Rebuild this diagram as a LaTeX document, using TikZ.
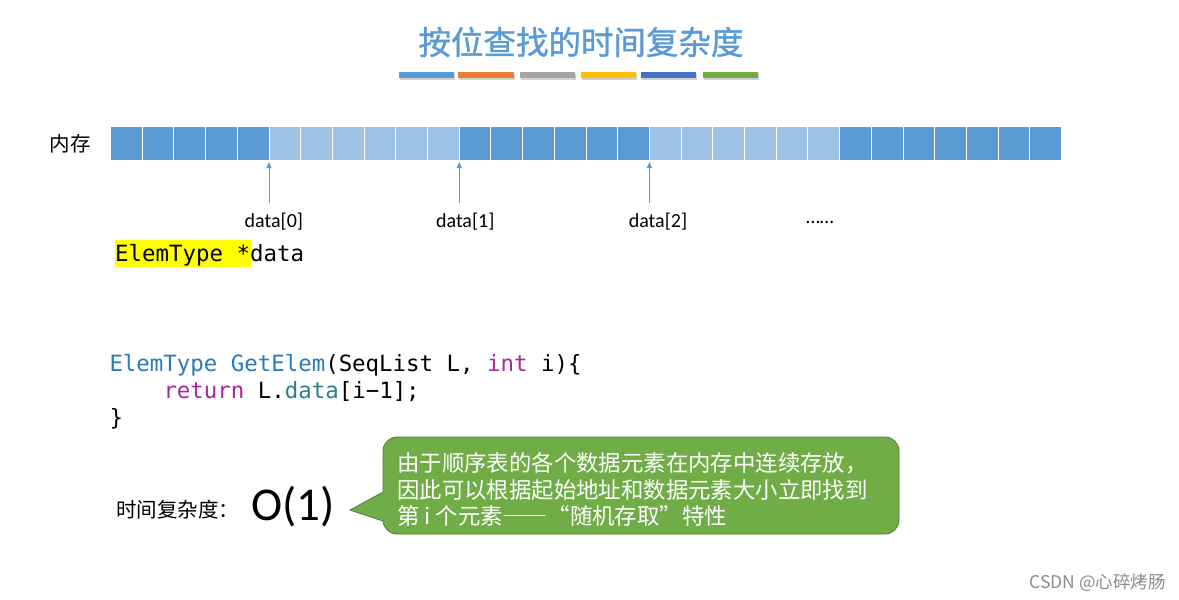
\documentclass[tikz,border=0pt]{standalone}
\usepackage{fontspec}
\setmainfont{Carlito}
\newfontfamily\cjk{Noto Sans CJK SC}
\newfontfamily\cjkfw[RawFeature=+fwid]{Noto Sans CJK SC}
\newfontfamily\cjkt[FakeBold=1.2]{Noto Sans CJK SC}
\newfontfamily\mono{DejaVu Sans Mono}
\usetikzlibrary{arrows.meta}
\definecolor{tblue}{HTML}{5B9BD5}
\definecolor{lblue}{HTML}{9DC3E6}
\definecolor{borange}{HTML}{ED7D31}
\definecolor{bgray}{HTML}{A5A5A5}
\definecolor{bgold}{HTML}{FFC000}
\definecolor{bdblue}{HTML}{4472C4}
\definecolor{bgreen}{HTML}{70AD47}
\definecolor{cgreen}{HTML}{70AD47}
\definecolor{cborder}{HTML}{507E32}
\definecolor{kwblue}{HTML}{2B7BB9}
\definecolor{kwpurple}{HTML}{A8289C}
\definecolor{kwteal}{HTML}{2E7D8C}
\definecolor{hyellow}{HTML}{FFFF00}
\tikzset{
  cell/.style={draw=white, line width=1pt, minimum width=31.7pt, minimum height=34pt, inner sep=0pt, outer sep=0pt},
  darkcell/.style={cell, fill=tblue},
  lightcell/.style={cell, fill=lblue},
  ptr/.style={draw=tblue, line width=0.8pt, -{Triangle[length=6pt,width=5pt]}, shorten >=2pt},
  lbl/.style={inner sep=0pt, font=\fontsize{20}{24}\selectfont, anchor=base},
  code/.style={inner sep=0pt, anchor=base west, font=\mono\fontsize{22.4}{26}\selectfont},
  cn/.style={inner sep=0pt, font=\cjk\fontsize{20.5}{24}\selectfont},
  calltxt/.style={inner sep=0pt, anchor=base west, text=white, font=\cjk\fontsize{22.4}{26}\selectfont},
}
\begin{document}
\begin{tikzpicture}[x=1pt,y=-1pt]
\useasboundingbox[fill=white] (0,0) rectangle (1179,600);

% title
\node[inner sep=0pt, text=tblue, font=\cjkt\fontsize{32.5}{36}\selectfont] (title) at (581,42) {按位查找的时间复杂度};

% colour bars
\foreach \xa/\xb/\c in {399/454/tblue, 458/514/borange, 520/575/bgray, 581/636/bgold, 641/696/bdblue, 703/758/bgreen}{
  \fill[black!18] (\xa+1,73.5) rectangle (\xb+1,79.5);
  \fill[\c] (\xa,71.8) rectangle (\xb,77.8);
}

% memory label
\node[cn] (mem) at (70,144) {内存};

% memory strip
\foreach \i in {0,...,29}{
  \pgfmathtruncatemacro{\isdark}{(\i<5) || (\i>10 && \i<17) || (\i>22) ? 1 : 0}
  \ifnum\isdark=1
    \node[darkcell] (c\i) at (110.5+31.7*\i+15.85,143) {};
  \else
    \node[lightcell] (c\i) at (110.5+31.7*\i+15.85,143) {};
  \fi
}

% pointers
\coordinate (p0) at (c5.south west |- 0,203);
\coordinate (p1) at (c11.south west |- 0,203);
\coordinate (p2) at (c17.south west |- 0,203);
\draw[ptr] (p0) -- (c5.south west);
\draw[ptr] (p1) -- (c11.south west);
\draw[ptr] (p2) -- (c17.south west);

\node[lbl] (d0) at (273.9,227.5) {data[0]};
\node[lbl] (d1) at (465.3,227.5) {data[1]};
\node[lbl] (d2) at (658,227.5) {data[2]};
\node[lbl] (dots) at (820,223) {……};

% ElemType *data
\fill[hyellow] (115,239.5) rectangle (251,266.5);
\node[code] (ptrdecl) at (115,261.7) {ElemType *data};

% code
\node[code] (cl1) at (109.3,371.7) {\textcolor{kwblue}{ElemType GetElem}(SeqList L, \textcolor{kwpurple}{int} i)\{};
\node[code] (cl2) at (163.3,398.3) {\textcolor{kwpurple}{return} L.\textcolor{kwteal}{data}[i−1];};
\node[code] (cl3) at (109.3,425) {\}};

% time complexity
\node[cn, anchor=base west] (tc) at (116,517.5) {时间复杂度：};
\node[inner sep=0pt, anchor=base west, font=\fontsize{47}{52}\selectfont] (o1) at (251,520) {O(1)};

% callout
\draw[fill=cgreen, draw=cborder, line width=0.8pt]
  (383,492) [rounded corners=14pt] -- (383,437) -- (899,437) -- (899,534) -- (383,534) [sharp corners] -- (383,521) -- (350,510) -- cycle;
\node[calltxt] (t1) at (397,471.5) {由于顺序表的各个数据元素在内存中连续存放，};
\node[calltxt] (t2) at (397,498) {因此可以根据起始地址和数据元素大小立即找到};
\node[calltxt] (t3) at (397,524.5) {第 i 个元素{\cjkfw ——“}随机存取{\cjkfw ”}特性};

% signature
\node[inner sep=0pt, anchor=base east, text=black!45, font=\cjk\fontsize{17.5}{20}\selectfont] (sig) at (1166,588) {CSDN @心碎烤肠};
\end{tikzpicture}
\end{document}
